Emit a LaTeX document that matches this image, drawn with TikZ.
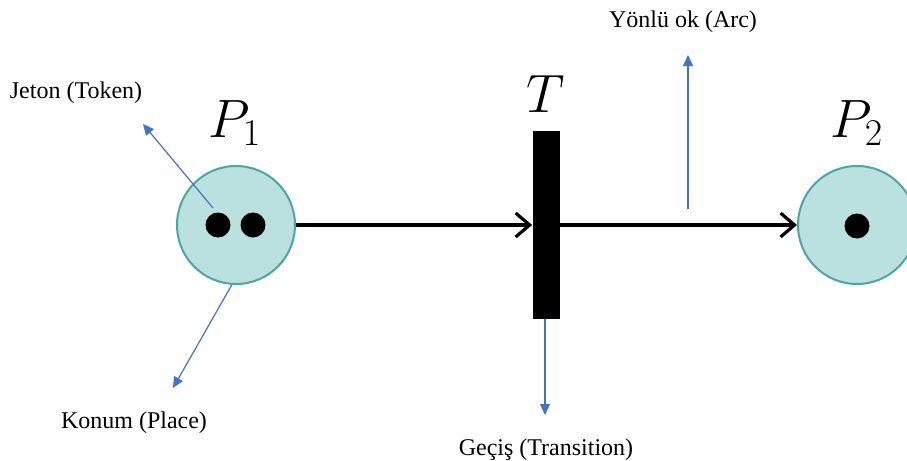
\RequirePackage{fix-cm}
\documentclass[tikz,border=0pt]{standalone}
\usepackage{fontspec}
\setmainfont{Liberation Serif}
\usetikzlibrary{arrows.meta}
\definecolor{placefill}{RGB}{187,224,224}
\definecolor{placeline}{RGB}{77,166,160}
\definecolor{pointblue}{RGB}{68,114,196}

\begin{document}
\begin{tikzpicture}[x=0.5pt,y=-0.5pt,font=\fontsize{12}{14}\selectfont,
 place/.style={circle,draw=placeline,line width=1pt,fill=placefill,inner sep=0pt,minimum size=59pt},
 token/.style={circle,fill=black,inner sep=0pt,minimum size=12.5pt},
 bar/.style={rectangle,fill=black,inner sep=0pt,minimum width=13.5pt,minimum height=94pt},
 arc/.style={-{Straight Barb[length=7pt,width=12pt,line width=1.6pt]},line width=1.6pt},
 pointer/.style={-{Triangle[length=5.5pt,width=5pt]},pointblue,line width=0.6pt},
 big/.style={font=\fontsize{27}{32}\selectfont,anchor=base}]
\useasboundingbox (0,0) rectangle (907,461);
\node[place] (p1) at (236,225) {};
\node[token] (tok1) at (218,225) {}; \node[token] (tok2) at (253,225) {};
\node[bar] (t) at (546,225) {};
\node[place] (p2) at (857,225) {};
\node[token] (tok3) at (857,226) {};
\node[big] (p1lab) at (235,137) {$P_1$};
\node[big] (tlab) at (546,112) {$T$};
\node[big] (p2lab) at (857,137) {$P_2$};
\draw[arc] (p1) -- (t);
\draw[arc] (t) -- (p2);
% pointers to the labels
\coordinate (jetfrom) at (213,208); \coordinate (jetto) at (143,124);
\coordinate (konto) at (173,388);
\coordinate (gecto) at (545,415);
\coordinate (arcfrom) at (688,209); \coordinate (arcto) at (688,55);
\draw[pointer] (jetfrom) -- (jetto);
\draw[pointer] (p1.266) -- (konto);
\draw[pointer] (t.south -| gecto) -- (gecto);
\draw[pointer] (arcfrom) -- (arcto);
\node[anchor=base] (jeton) at (76,98) {Jeton (Token)};
\node[anchor=base] (konum) at (134,428) {Konum (Place)};
\node[anchor=base] (gecis) at (546,455) {Geçiş (Transition)};
\node[anchor=base] (yonlu) at (683,27) {Yönlü ok (Arc)};
\end{tikzpicture}
\end{document}
